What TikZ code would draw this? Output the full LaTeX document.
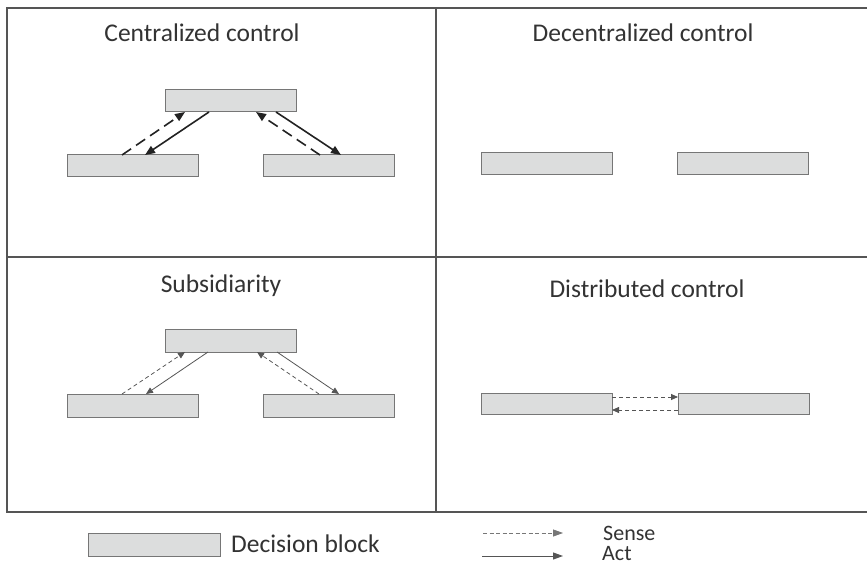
\documentclass[tikz,border=0pt]{standalone}
\usepackage{fontspec}
\setmainfont{Carlito}
\usetikzlibrary{arrows.meta}
\definecolor{framec}{HTML}{555555}
\definecolor{boxfill}{HTML}{DCDDDD}
\definecolor{boxline}{HTML}{767676}
\definecolor{txt}{HTML}{333333}
\definecolor{arr}{HTML}{222222}
\begin{document}
\begin{tikzpicture}[x=1pt,y=-1pt,
  dblock/.style={draw=boxline,fill=boxfill,line width=1pt,minimum width=131pt,minimum height=22pt,inner sep=0pt,outer sep=0pt,anchor=north west},
  ttl/.style={font=\fontsize{25.5}{28}\selectfont,text=txt,anchor=base,inner sep=0pt},
  bigact/.style={draw=arr,line width=1.6pt,-{Triangle[length=10pt,width=8pt]}},
  bigsense/.style={bigact,dash pattern=on 11pt off 6pt},
  smallact/.style={draw=framec,line width=0.8pt,-{Triangle[length=7pt,width=6pt]}},
  smallsense/.style={smallact,dash pattern=on 4pt off 3pt},
  legact/.style={draw=framec,line width=1pt,-{Triangle[length=10pt,width=7pt]}},
  legsense/.style={draw=framec!80,line width=0.8pt,dash pattern=on 4pt off 2.5pt,-{Triangle[length=10pt,width=7pt]}},
  frame/.style={draw=framec,line width=1.5pt}]
\useasboundingbox (0,0) rectangle (867,564);
\fill[white] (0,0) rectangle (867,564);
% frame
\draw[frame] (870,8) -- (7,8) -- (7,512) -- (870,512);
\draw[frame] (436,8) -- (436,512);
\draw[frame] (7,257) -- (870,257);

% titles
\node[ttl] (tc) at (202,42) {Centralized control};
\node[ttl] (td) at (643,42) {Decentralized control};
\node[ttl] (ts) at (221,292) {Subsidiarity};
\node[ttl] (tdist) at (647,297) {Distributed control};

% centralized
\node[dblock] (t1) at (165,90) {};
\node[dblock] (l1) at (67,155) {};
\node[dblock] (r1) at (263,155) {};
\draw[bigsense] ([xshift=55pt]l1.north west) -- ([xshift=20pt]t1.south west);
\draw[bigact] ([xshift=44pt]t1.south west) -- ([xshift=78pt]l1.north west);
\draw[bigact] ([xshift=111pt]t1.south west) -- ([xshift=78pt]r1.north west);
\draw[bigsense] ([xshift=57pt]r1.north west) -- ([xshift=91pt]t1.south west);

% decentralized
\node[dblock] (d1) at (481,153) {};
\node[dblock] (d2) at (677,153) {};

% subsidiarity
\node[dblock,minimum height=23pt] (t2) at (165,329) {};
\node[dblock,minimum height=23pt] (l2) at (67,394) {};
\node[dblock,minimum height=23pt] (r2) at (263,394) {};
\draw[smallsense] ([xshift=55pt]l2.north west) -- ([xshift=20pt]t2.south west);
\draw[smallact] ([xshift=43pt]t2.south west) -- ([xshift=79pt]l2.north west);
\draw[smallact] ([xshift=112pt]t2.south west) -- ([xshift=76pt]r2.north west);
\draw[smallsense] ([xshift=56pt]r2.north west) -- ([xshift=92pt]t2.south west);

% distributed
\node[dblock,minimum height=21pt] (e1) at (481,393) {};
\node[dblock,minimum height=21pt] (e2) at (678,393) {};
\draw[smallsense] ([yshift=-4pt]e1.north east) -- ([yshift=-4pt]e2.north west);
\draw[smallsense] ([yshift=4pt]e2.south west) -- ([yshift=4pt]e1.south east);

% legend
\node[dblock,minimum width=132pt,minimum height=23pt] (lg) at (88,533) {};
\node[ttl,anchor=base west] (lgt) at (231,552) {Decision block};
\coordinate (s0) at (483,533);
\coordinate (s1) at (563,533);
\coordinate (a0) at (482,556);
\coordinate (a1) at (563,556);
\draw[legsense] (s0) -- (s1);
\draw[legact] (a0) -- (a1);
\node[ttl,anchor=base west,font=\fontsize{22}{24}\selectfont] (sense) at (603,540) {Sense};
\node[ttl,anchor=base west,font=\fontsize{22}{24}\selectfont] (act) at (602,560) {Act};
\end{tikzpicture}
\end{document}
